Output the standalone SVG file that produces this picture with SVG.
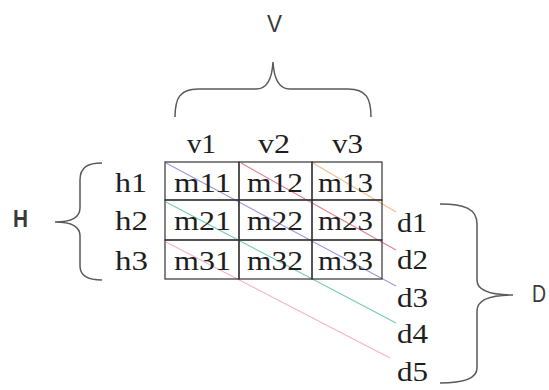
<svg xmlns="http://www.w3.org/2000/svg" width="549" height="390" viewBox="0 0 549 390">
<style>
.bg{fill:#ffffff}
.cell{fill:none;stroke:#333;stroke-width:1.2}
.t{font-family:"Liberation Serif","Times New Roman",serif;font-size:27px;fill:#1e1e1e}
.s{font-family:"Liberation Sans",Arial,sans-serif;font-size:24px;fill:#3a3a3a}
.brace{fill:none;stroke:#5a5a5a;stroke-width:1.5}
.ln{fill:none;stroke-width:1.1;opacity:0.85}
</style>
<rect class="bg" x="0" y="0" width="549" height="390"/>

<g id="connectors">
  <line class="ln" x1="313" y1="163" x2="396" y2="212" stroke="#f2b27a"/>
  <line class="ln" x1="241" y1="163" x2="396" y2="250" stroke="#e06a7c"/>
  <line class="ln" x1="166" y1="163" x2="396" y2="286" stroke="#8a86d6"/>
  <line class="ln" x1="166" y1="202" x2="396" y2="323" stroke="#5cc4a4"/>
  <line class="ln" x1="166" y1="242" x2="390" y2="358" stroke="#f4a6bc"/>
</g>

<g id="matrix">
  <rect class="cell" x="165" y="162" width="74" height="38"/>
  <rect class="cell" x="239" y="162" width="73" height="38"/>
  <rect class="cell" x="312" y="162" width="70" height="38"/>
  <rect class="cell" x="165" y="200" width="74" height="40"/>
  <rect class="cell" x="239" y="200" width="73" height="40"/>
  <rect class="cell" x="312" y="200" width="70" height="40"/>
  <rect class="cell" x="165" y="240" width="74" height="39"/>
  <rect class="cell" x="239" y="240" width="73" height="39"/>
  <rect class="cell" x="312" y="240" width="70" height="39"/>
  <g id="m11"><text class="t" x="174" y="192" textLength="57" lengthAdjust="spacingAndGlyphs">m11</text></g>
  <g id="m12"><text class="t" x="247" y="192" textLength="56" lengthAdjust="spacingAndGlyphs">m12</text></g>
  <g id="m13"><text class="t" x="318" y="192" textLength="55" lengthAdjust="spacingAndGlyphs">m13</text></g>
  <g id="m21"><text class="t" x="174" y="230" textLength="57" lengthAdjust="spacingAndGlyphs">m21</text></g>
  <g id="m22"><text class="t" x="247" y="230" textLength="56" lengthAdjust="spacingAndGlyphs">m22</text></g>
  <g id="m23"><text class="t" x="318" y="230" textLength="55" lengthAdjust="spacingAndGlyphs">m23</text></g>
  <g id="m31"><text class="t" x="174" y="270" textLength="57" lengthAdjust="spacingAndGlyphs">m31</text></g>
  <g id="m32"><text class="t" x="247" y="270" textLength="56" lengthAdjust="spacingAndGlyphs">m32</text></g>
  <g id="m33"><text class="t" x="318" y="270" textLength="55" lengthAdjust="spacingAndGlyphs">m33</text></g>
</g>

<g id="v-labels">
  <g id="v1"><text class="t" x="187" y="153" textLength="29" lengthAdjust="spacingAndGlyphs">v1</text></g>
  <g id="v2"><text class="t" x="258" y="153" textLength="32" lengthAdjust="spacingAndGlyphs">v2</text></g>
  <g id="v3"><text class="t" x="332" y="153" textLength="31" lengthAdjust="spacingAndGlyphs">v3</text></g>
</g>

<g id="h-labels">
  <g id="h1"><text class="t" x="115" y="192" textLength="32" lengthAdjust="spacingAndGlyphs">h1</text></g>
  <g id="h2"><text class="t" x="115" y="230" textLength="33" lengthAdjust="spacingAndGlyphs">h2</text></g>
  <g id="h3"><text class="t" x="115" y="270" textLength="33" lengthAdjust="spacingAndGlyphs">h3</text></g>
</g>

<g id="d-labels">
  <g id="d1"><text class="t" x="397" y="232" textLength="30" lengthAdjust="spacingAndGlyphs">d1</text></g>
  <g id="d2"><text class="t" x="397" y="269" textLength="31" lengthAdjust="spacingAndGlyphs">d2</text></g>
  <g id="d3"><text class="t" x="397" y="307" textLength="31" lengthAdjust="spacingAndGlyphs">d3</text></g>
  <g id="d4"><text class="t" x="397" y="343" textLength="31" lengthAdjust="spacingAndGlyphs">d4</text></g>
  <g id="d5"><text class="t" x="397" y="381" textLength="31" lengthAdjust="spacingAndGlyphs">d5</text></g>
</g>

<g id="brace-V">
  <path class="brace" d="M175,117 C175,98 180,89 198,89 L256,89 C266,89 272,80 273,62 C274,80 280,89 290,89 L348,89 C366,89 371,98 371,117"/>
  <text class="s" x="267" y="32" textLength="15" lengthAdjust="spacingAndGlyphs">V</text>
</g>

<g id="brace-H">
  <path class="brace" d="M102,163 C88,163 80,167 80,180 L80,208 C80,217 72,222 55,222 C72,222 80,227 80,236 L80,266 C80,276 88,280 102,280"/>
  <text class="s" x="13" y="227" textLength="15" lengthAdjust="spacingAndGlyphs" font-weight="bold">H</text>
</g>

<g id="brace-D">
  <path class="brace" d="M440,204 C465,204 477,209 477,224 L477,280 C477,290 490,295 513,295 C490,295 477,300 477,311 L477,368 C477,378 465,383 440,383"/>
  <text class="s" x="532" y="302" textLength="14" lengthAdjust="spacingAndGlyphs">D</text>
</g>
</svg>
